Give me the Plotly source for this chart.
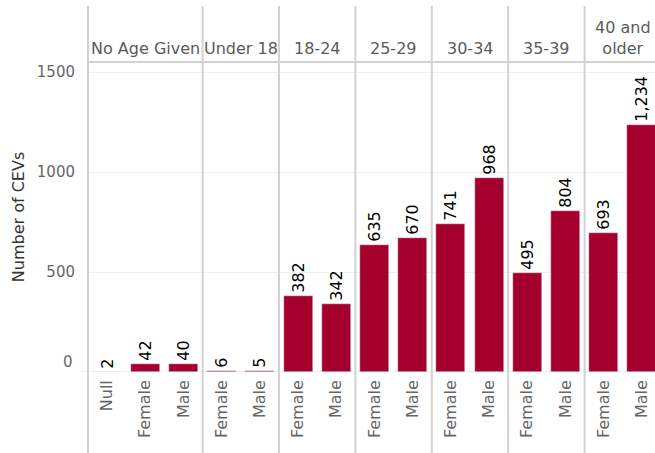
import plotly.graph_objects as go

groups = ["No Age Given", "Under 18", "18-24", "25-29", "30-34", "35-39", "40 and<br>older"]
genders = [["Null", "Female", "Male"], ["Female", "Male"], ["Female", "Male"], ["Female", "Male"],
           ["Female", "Male"], ["Female", "Male"], ["Female", "Male"]]
values = [[2, 42, 40], [6, 5], [382, 342], [635, 670], [741, 968], [495, 804], [693, 1234]]
y_ticks = [0, 500, 1000, 1500]

BAR = "#A5002D"
FONT = "DejaVu Sans"
W, H = 655, 453
L, T, B = 88, 62, 81

xs, ys, labels, group_bounds = [], [], [], []
i = 0
for g, vals in zip(genders, values):
    start = i
    for gg, v in zip(g, vals):
        xs.append(i); ys.append(v); labels.append(gg); i += 1
    group_bounds.append((start - 0.5, i - 0.5))

slot = 38.2
xmin = -0.5
xmax = xmin + (W - L) / slot
ymin, ymax = 0, 1550

fig = go.Figure(go.Bar(
    x=xs, y=ys, marker_color=BAR, width=0.76,
    texttemplate="%{y:,}", textposition="outside", textangle=-90, constraintext="none",
    textfont=dict(color="black", size=16, family=FONT), cliponaxis=False,
))

def px(xv):
    return (xv - xmin) / (xmax - xmin)

plot_h = H - T - B
def py(pix):
    return (H - B - pix) / plot_h

shapes = []
for (a, b) in group_bounds:
    shapes.append(dict(type="line", xref="paper", yref="paper", x0=px(a), x1=px(a),
                       y0=py(H + 5), y1=py(6), line=dict(color="#d2d2d2", width=2), layer="above"))
shapes.append(dict(type="line", xref="paper", yref="paper", x0=0, x1=1, y0=1, y1=1,
                   line=dict(color="#d2d2d2", width=2)))
shapes.append(dict(type="line", xref="paper", yref="y", x0=-8 / (W - L), x1=1, y0=0, y1=0,
                   line=dict(color="#dddddd", width=1), layer="below"))

annotations = []
for g, (a, b) in zip(groups, group_bounds):
    annotations.append(dict(text=g, x=(a + b) / 2, xref="x", y=1, yref="paper",
                            yanchor="bottom", yshift=2, showarrow=False,
                            font=dict(size=16, color="#5a5a5a", family=FONT)))
annotations.append(dict(text=str(y_ticks[0]), x=-13 / (W - L), xref="paper", y=0, yref="y",
                        xanchor="right", yshift=10, showarrow=False,
                        font=dict(size=15, color="#666666", family=FONT)))

fig.update_layout(
    width=W, height=H, margin=dict(l=L, r=0, t=T, b=B, autoexpand=False),
    plot_bgcolor="white", paper_bgcolor="white", showlegend=False,
    font=dict(family=FONT),
    shapes=shapes, annotations=annotations, bargap=0,
)
fig.update_xaxes(range=[xmin, xmax], tickvals=xs, ticktext=labels, tickangle=-90,
                 showgrid=False, zeroline=False, showline=False, ticks="", automargin=False,
                 ticklabelstandoff=4,
                 tickfont=dict(size=16, color="#666666", family=FONT))
fig.update_yaxes(range=[ymin, ymax], tickvals=y_ticks, ticktext=[""] + [str(v) for v in y_ticks[1:]],
                 showgrid=True, gridcolor="#efefef", gridwidth=1, zeroline=False, showline=False,
                 ticks="", ticklabelstandoff=12, automargin=False,
                 tickfont=dict(size=15, color="#666666", family=FONT),
                 title=dict(text="Number of CEVs", standoff=8,
                            font=dict(size=16, color="#333333", family=FONT)))

fig.write_html("out.html", config={"displayModeBar": False},
               post_script="document.body.style.margin='0';document.body.style.overflow='hidden';")
